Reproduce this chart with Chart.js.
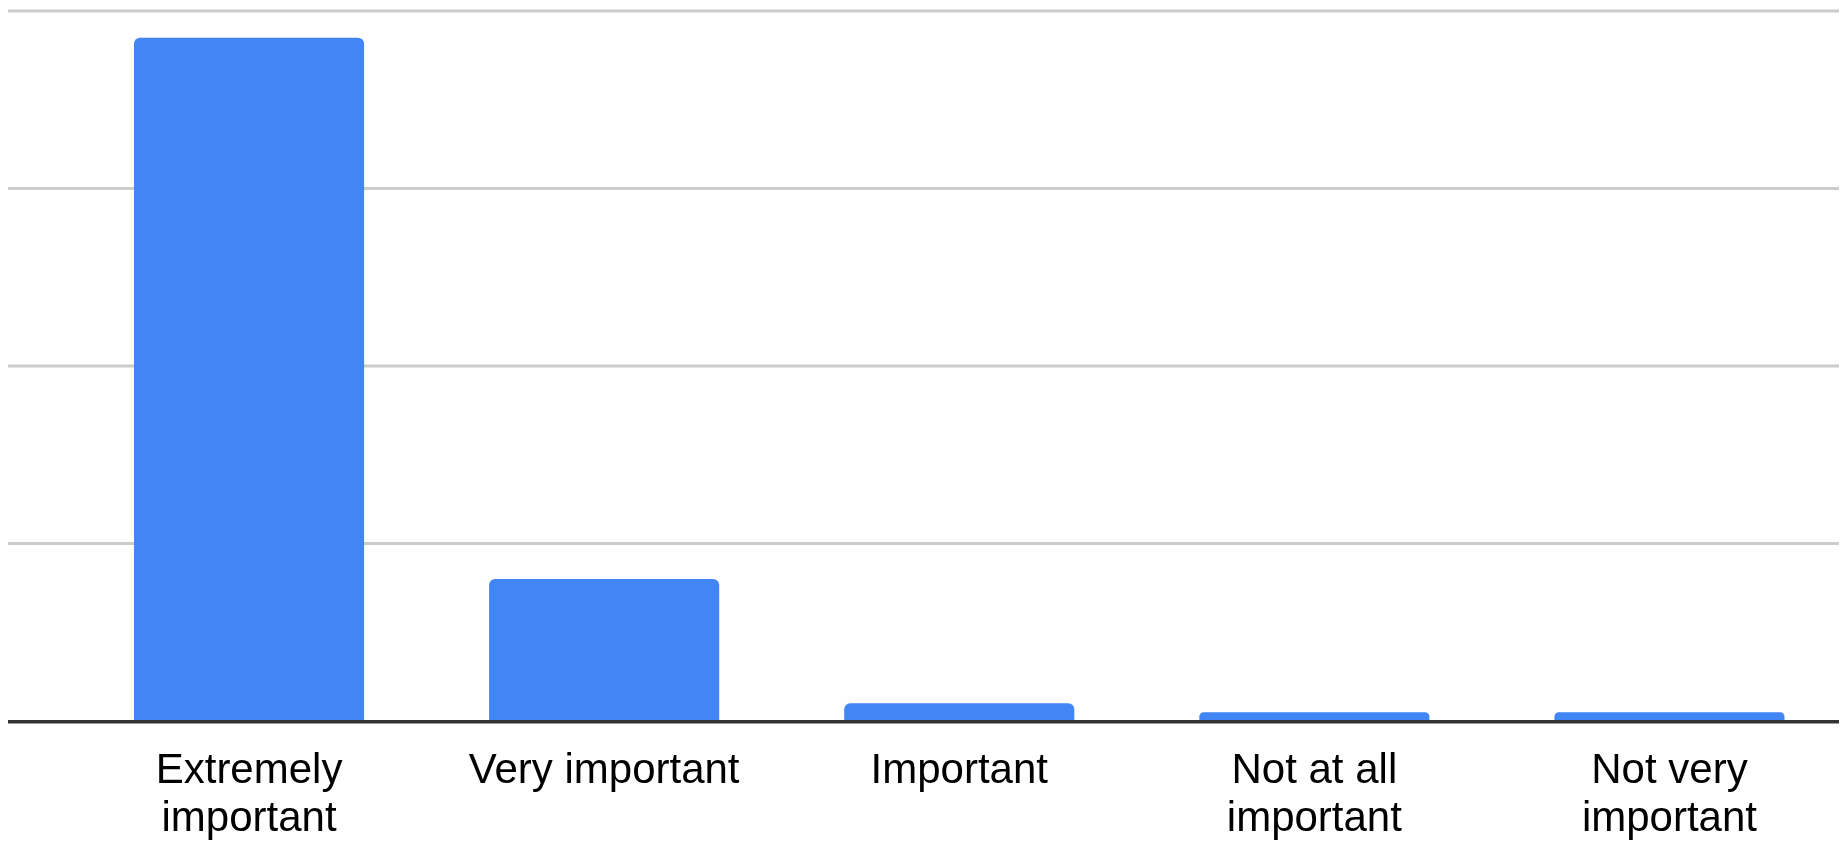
<!DOCTYPE html>
<html>
<head>
<meta charset="utf-8">
<title>Importance ratings</title>
<script src="https://cdn.jsdelivr.net/npm/chart.js@4.4.1/dist/chart.umd.min.js"></script>
<style>
  html, body { margin: 0; padding: 0; background: #ffffff; }
  #chartContainer { position: relative; width: 1847px; height: 843px; }
</style>
</head>
<body>
<div id="chartContainer">
  <canvas id="ratingChart"></canvas>
</div>
<script>
// answer categories (multi-line labels are arrays)
const categories = [
  ["Extremely", "important"],
  "Very important",
  "Important",
  ["Not at all", "important"],
  ["Not very", "important"],
];

// number of responses per category
const responses = [77, 16, 2, 1, 1];

// value axis: 0..80, gridline every 20 (labels hidden)
const yMin = 0;
const yMax = 80;
const yStep = 20;

// Gridlines run a bit wider than the bar area, so draw them ourselves
const wideGrid = {
  id: "wideGrid",
  beforeDatasetsDraw(chart, args, opts) {
    const y = chart.scales.y;
    const ctx = chart.ctx;
    ctx.save();
    ctx.strokeStyle = opts.color;
    ctx.lineWidth = opts.width;
    y.ticks.forEach((t) => {
      if (t.value === yMin) return;
      const py = y.getPixelForValue(t.value);
      ctx.beginPath();
      ctx.moveTo(opts.left, py);
      ctx.lineTo(opts.right, py);
      ctx.stroke();
    });
    ctx.restore();
  },
  afterDatasetsDraw(chart, args, opts) {
    // dark zero line along the bottom of the bars
    const y = chart.scales.y;
    const ctx = chart.ctx;
    const py = y.getPixelForValue(yMin) + 0.75;
    ctx.save();
    ctx.strokeStyle = opts.baseColor;
    ctx.lineWidth = opts.baseWidth;
    ctx.beginPath();
    ctx.moveTo(opts.left, py);
    ctx.lineTo(opts.right, py);
    ctx.stroke();
    ctx.restore();
  },
};

const ctx = document.getElementById("ratingChart").getContext("2d");

new Chart(ctx, {
  type: "bar",
  data: {
    labels: categories,
    datasets: [
      {
        label: "Responses",
        data: responses,
        backgroundColor: "#4285f4",
        borderRadius: { topLeft: 6, topRight: 6, bottomLeft: 0, bottomRight: 0 },
        borderSkipped: "bottom",
        categoryPercentage: 1,
        barPercentage: 0.648,
      },
    ],
  },
  options: {
    responsive: true,
    maintainAspectRatio: false,
    animation: false,
    layout: {
      padding: { top: 11, left: 71.5, right: 0, bottom: 0 },
    },
    plugins: {
      legend: { display: false },
      tooltip: { enabled: false },
      wideGrid: {
        left: 8,
        right: 1839,
        color: "#cccccc",
        width: 3,
        baseColor: "#333333",
        baseWidth: 3.5,
      },
    },
    scales: {
      x: {
        grid: { display: false, drawTicks: false },
        border: { display: false },
        ticks: {
          autoSkip: false,
          maxRotation: 0,
          minRotation: 0,
          padding: 26,
          color: "#000000",
          font: { family: "'Liberation Sans', Arial, sans-serif", size: 42, lineHeight: 1.15 },
        },
        afterFit(scale) {
          scale.height = 122;
        },
      },
      y: {
        display: false,
        min: yMin,
        max: yMax,
        ticks: { stepSize: yStep },
      },
    },
  },
  plugins: [wideGrid],
});
</script>
</body>
</html>
